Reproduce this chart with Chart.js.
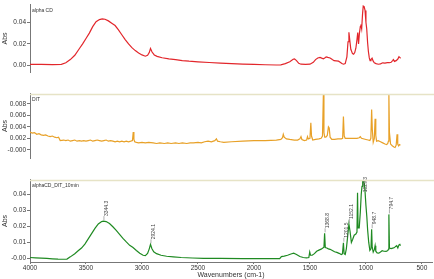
<!DOCTYPE html>
<html>
<head>
<meta charset="utf-8">
<script src="https://cdn.jsdelivr.net/npm/chart.js@4.4.1/dist/chart.umd.min.js"></script>
<style>
    html, body { margin: 0; padding: 0; background: #fff; }
    #wrap { position: relative; width: 434px; height: 279px; overflow: hidden; }
    canvas { position: absolute; left: 0; }
</style>
</head>
<body>
<div id="wrap">
    <canvas id="chart-alpha" width="434" height="89" style="top:0"></canvas>
    <canvas id="chart-dit" width="434" height="86" style="top:89px"></canvas>
    <canvas id="chart-mix" width="434" height="104" style="top:175px"></canvas>
</div>
<script>
// espectros (cm-1, Abs)
const ALPHA_WN = [4000, 3900, 3800, 3720, 3680, 3640, 3600, 3560, 3530, 3500, 3470, 3440, 3410, 3380, 3355, 3330, 3300, 3270, 3240, 3210, 3180, 3150, 3120, 3090, 3060, 3030, 3000, 2970, 2950, 2935, 2924, 2910, 2890, 2865, 2820, 2760, 2700, 2640, 2580, 2500, 2400, 2300, 2200, 2100, 2000, 1900, 1800, 1760, 1720, 1680, 1650, 1638, 1620, 1600, 1580, 1540, 1500, 1470, 1450, 1430, 1410, 1395, 1380, 1365, 1355, 1340, 1320, 1300, 1285, 1265, 1245, 1230, 1215, 1200, 1185, 1170, 1160, 1152, 1145, 1135, 1120, 1110, 1100, 1090, 1080, 1073, 1066, 1058, 1050, 1045, 1038, 1030, 1024, 1016, 1008, 1000, 993, 985, 978, 970, 963, 955, 945, 935, 925, 910, 890, 870, 850, 830, 810, 790, 775, 760, 755, 745, 730, 715, 705, 698, 690];
const ALPHA_ABS = [0.0010, 0.0010, 0.0009, 0.0011, 0.0025, 0.0055, 0.0095, 0.0155, 0.0200, 0.0250, 0.0300, 0.0360, 0.0405, 0.0425, 0.0431, 0.0428, 0.0413, 0.0392, 0.0370, 0.0330, 0.0285, 0.0240, 0.0200, 0.0165, 0.0138, 0.0115, 0.0098, 0.0086, 0.0095, 0.0120, 0.0158, 0.0125, 0.0098, 0.0085, 0.0072, 0.0062, 0.0055, 0.0046, 0.0040, 0.0034, 0.0028, 0.0022, 0.0018, 0.0013, 0.0010, 0.0007, 0.0005, 0.0006, 0.0018, 0.0035, 0.0058, 0.0062, 0.0045, 0.0020, 0.0012, 0.0010, 0.0012, 0.0030, 0.0055, 0.0070, 0.0075, 0.0068, 0.0062, 0.0072, 0.0080, 0.0075, 0.0070, 0.0055, 0.0045, 0.0043, 0.0040, 0.0030, 0.0018, 0.0012, 0.0018, 0.0080, 0.0220, 0.0308, 0.0240, 0.0150, 0.0110, 0.0105, 0.0120, 0.0160, 0.0240, 0.0305, 0.0200, 0.0300, 0.0360, 0.0380, 0.0340, 0.0480, 0.0550, 0.0545, 0.0510, 0.0400, 0.0340, 0.0210, 0.0130, 0.0070, 0.0045, 0.0055, 0.0068, 0.0040, 0.0025, 0.0018, 0.0012, 0.0015, 0.0025, 0.0022, 0.0026, 0.0026, 0.0030, 0.0048, 0.0055, 0.0038, 0.0045, 0.0060, 0.0082, 0.0075, 0.0068];

const DIT_WN = [4000, 3980, 3960, 3940, 3920, 3900, 3880, 3860, 3840, 3820, 3800, 3780, 3760, 3745, 3730, 3700, 3680, 3660, 3640, 3620, 3600, 3580, 3560, 3540, 3520, 3500, 3480, 3460, 3440, 3420, 3400, 3380, 3360, 3340, 3320, 3300, 3280, 3260, 3240, 3220, 3200, 3180, 3160, 3140, 3120, 3100, 3085, 3078, 3072, 3065, 3050, 3030, 3000, 2970, 2940, 2900, 2870, 2840, 2800, 2770, 2740, 2700, 2670, 2640, 2600, 2570, 2540, 2500, 2470, 2440, 2410, 2380, 2350, 2335, 2325, 2300, 2270, 2200, 2100, 2000, 1900, 1800, 1760, 1745, 1738, 1730, 1710, 1680, 1640, 1610, 1590, 1580, 1572, 1550, 1530, 1522, 1515, 1500, 1492, 1486, 1475, 1450, 1420, 1400, 1388, 1380, 1375, 1368, 1358, 1345, 1335, 1328, 1320, 1305, 1280, 1250, 1220, 1208, 1201, 1194, 1185, 1150, 1120, 1080, 1060, 1050, 1040, 1000, 980, 965, 956, 949, 943, 935, 925, 918, 912, 905, 890, 870, 850, 830, 815, 805, 799, 795, 790, 780, 765, 750, 740, 730, 722, 716, 708, 700, 692];
const DIT_ABS = [0.0031, 0.0029, 0.0030, 0.0027, 0.0028, 0.0026, 0.0025, 0.0026, 0.0024, 0.0023, 0.0024, 0.0022, 0.0021, 0.0022, 0.0016, 0.0017, 0.0016, 0.0017, 0.0015, 0.0016, 0.0017, 0.0015, 0.0016, 0.0015, 0.0016, 0.0015, 0.0016, 0.0017, 0.0015, 0.0016, 0.0017, 0.0016, 0.0015, 0.0016, 0.0017, 0.0015, 0.0016, 0.0015, 0.0014, 0.0015, 0.0014, 0.0015, 0.0014, 0.0015, 0.0014, 0.0015, 0.0016, 0.0031, 0.0018, 0.0014, 0.0013, 0.0012, 0.0013, 0.0012, 0.0013, 0.0012, 0.0011, 0.0012, 0.0011, 0.0012, 0.0011, 0.0012, 0.0011, 0.0012, 0.0011, 0.0012, 0.0012, 0.0013, 0.0012, 0.0014, 0.0015, 0.0014, 0.0016, 0.0019, 0.0015, 0.0014, 0.0013, 0.0014, 0.0015, 0.0016, 0.0016, 0.0017, 0.0018, 0.0021, 0.0027, 0.0022, 0.0019, 0.0018, 0.0017, 0.0017, 0.0019, 0.0023, 0.0018, 0.0016, 0.0017, 0.0023, 0.0019, 0.0020, 0.0047, 0.0024, 0.0017, 0.0018, 0.0019, 0.0020, 0.0024, 0.0097, 0.0030, 0.0022, 0.0022, 0.0025, 0.0040, 0.0038, 0.0022, 0.0018, 0.0018, 0.0019, 0.0019, 0.0020, 0.0058, 0.0024, 0.0020, 0.0020, 0.0020, 0.0020, 0.0021, 0.0023, 0.0020, 0.0018, 0.0017, 0.0016, 0.0020, 0.0070, 0.0035, 0.0013, 0.0020, 0.0054, 0.0025, 0.0015, 0.0016, 0.0014, 0.0012, 0.0010, 0.0009, 0.0011, 0.0015, 0.0097, 0.0030, 0.0010, 0.0007, 0.0005, 0.0004, 0.0008, 0.0027, 0.0010, 0.0007, 0.0009, 0.0008];

const MIX_WN = [4000, 3950, 3900, 3850, 3800, 3750, 3700, 3670, 3640, 3600, 3570, 3540, 3510, 3480, 3450, 3420, 3390, 3360, 3344, 3320, 3290, 3260, 3230, 3200, 3170, 3140, 3110, 3080, 3050, 3020, 2990, 2970, 2950, 2935, 2924, 2912, 2895, 2870, 2830, 2780, 2720, 2650, 2550, 2450, 2300, 2100, 1900, 1770, 1755, 1730, 1700, 1670, 1645, 1620, 1590, 1560, 1530, 1510, 1502, 1495, 1480, 1460, 1440, 1420, 1400, 1385, 1375, 1369, 1363, 1350, 1335, 1320, 1300, 1280, 1260, 1240, 1220, 1210, 1201, 1195, 1185, 1175, 1165, 1152, 1142, 1130, 1118, 1105, 1090, 1080, 1075, 1070, 1060, 1050, 1042, 1035, 1029, 1020, 1010, 1000, 992, 985, 975, 965, 955, 949, 944, 935, 925, 918, 912, 900, 885, 870, 855, 840, 820, 805, 798, 795, 790, 775, 760, 745, 735, 725, 715, 705, 697, 692];
const MIX_ABS = [0.0006, 0.0004, 0.0002, 0.0000, -0.0002, -0.0004, -0.0005, -0.0004, 0.0010, 0.0030, 0.0048, 0.0065, 0.0090, 0.0122, 0.0155, 0.0188, 0.0215, 0.0230, 0.0233, 0.0230, 0.0218, 0.0198, 0.0175, 0.0150, 0.0125, 0.0103, 0.0082, 0.0068, 0.0050, 0.0033, 0.0020, 0.0018, 0.0032, 0.0060, 0.0088, 0.0062, 0.0042, 0.0030, 0.0020, 0.0014, 0.0010, 0.0006, 0.0003, 0.0001, 0.0000, -0.0001, -0.0001, -0.0001, 0.0012, 0.0015, 0.0020, 0.0028, 0.0033, 0.0025, 0.0012, 0.0006, 0.0004, 0.0006, 0.0040, 0.0020, 0.0020, 0.0030, 0.0045, 0.0052, 0.0058, 0.0065, 0.0070, 0.0157, 0.0068, 0.0065, 0.0060, 0.0057, 0.0050, 0.0042, 0.0038, 0.0032, 0.0024, 0.0028, 0.0098, 0.0030, 0.0025, 0.0060, 0.0125, 0.0215, 0.0170, 0.0100, 0.0120, 0.0145, 0.0152, 0.0165, 0.0410, 0.0190, 0.0190, 0.0290, 0.0400, 0.0450, 0.0500, 0.0490, 0.0440, 0.0330, 0.0260, 0.0180, 0.0100, 0.0050, 0.0060, 0.0182, 0.0070, 0.0040, 0.0055, 0.0080, 0.0045, 0.0035, 0.0033, 0.0040, 0.0048, 0.0045, 0.0044, 0.0050, 0.0058, 0.0275, 0.0065, 0.0062, 0.0065, 0.0068, 0.0075, 0.0080, 0.0066, 0.0085, 0.0088, 0.0080];

// picos marcados en el tercer espectro
const PEAK_WN = [3344.3, 2924.1, 1368.8, 1201.5, 1152.1, 1029.3, 948.7, 794.7];
const PEAK_LABELS = ['3344.3', '2924.1', '1368.8', '1201.5', '1152.1', '1029.3', '948.7', '794.7'];

// ejes
const X_TICKS = [4000, 3500, 3000, 2500, 2000, 1500, 1000, 500];
const X_LABELS = ['4000', '3500', '3000', '2500', '2000', '1500', '1000', '500'];
const Y_ALPHA_TICKS = [0, 0.02, 0.04];
const Y_ALPHA_LABELS = ['0.00', '0.02', '0.04'];
const Y_DIT_TICKS = [0, 0.002, 0.004, 0.006, 0.008];
const Y_DIT_LABELS = ['-0.000', '0.002', '0.004', '0.006', '0.008'];
const Y_MIX_TICKS = [0, 0.01, 0.02, 0.03, 0.04];
const Y_MIX_LABELS = ['-0.00', '0.01', '0.02', '0.03', '0.04'];

const FONT = 'Liberation Sans, Arial, sans-serif';
const AXIS_COLOR = '#777';
const TEXT_COLOR = '#333';

// nombre del panel y linea separadora
const panelDeco = {
    id: 'panelDeco',
    afterDraw(chart, args, opts) {
        const { ctx, chartArea } = chart;
        ctx.save();
        if (opts.separator) {
            ctx.strokeStyle = '#e6e3c6';
            ctx.lineWidth = 1.5;
            ctx.beginPath();
            ctx.moveTo(chartArea.left, chartArea.top + 0.5);
            ctx.lineTo(chartArea.right + 2, chartArea.top + 0.5);
            ctx.stroke();
        }
        ctx.fillStyle = TEXT_COLOR;
        ctx.font = `5px ${FONT}`;
        ctx.textBaseline = 'middle';
        ctx.fillText(opts.name, chartArea.left + 2, chartArea.top + 6);
        ctx.restore();
    }
};

// etiquetas verticales de los picos
const peakLabels = {
    id: 'peakLabels',
    afterDatasetsDraw(chart) {
        const { ctx, chartArea, scales } = chart;
        ctx.save();
        ctx.font = `5px ${FONT}`;
        ctx.fillStyle = '#444';
        ctx.strokeStyle = '#999';
        ctx.lineWidth = 0.8;
        PEAK_WN.forEach((wn, i) => {
            let best = -Infinity;
            MIX_WN.forEach((w, j) => {
                if (Math.abs(w - wn) <= 6 && MIX_ABS[j] > best) best = MIX_ABS[j];
            });
            const px = scales.x.getPixelForValue(wn);
            const py = scales.y.getPixelForValue(best);
            const txt = PEAK_LABELS[i];
            const w = ctx.measureText(txt).width;
            let start = py - 5;
            if (start - w < chartArea.top - 3) start = chartArea.top - 3 + w;
            ctx.beginPath();
            ctx.moveTo(px + 0.5, Math.max(py - 1, start));
            ctx.lineTo(px + 0.5, start);
            ctx.stroke();
            ctx.save();
            ctx.translate(px + 3, start);
            ctx.rotate(-Math.PI / 2);
            ctx.textAlign = 'left';
            ctx.textBaseline = 'middle';
            ctx.fillText(txt, 0, 0);
            ctx.restore();
        });
        ctx.restore();
    }
};

function toPoints(wn, abs) {
    return wn.map((w, i) => ({ x: w, y: abs[i] }));
}

function buildChart(id, cfg) {
    const showX = !!cfg.showX;
    return new Chart(document.getElementById(id), {
        type: 'line',
        data: {
            datasets: [{
                data: toPoints(cfg.wn, cfg.abs),
                borderColor: cfg.color,
                borderWidth: 1.2,
                pointRadius: 0,
                tension: 0,
                fill: false,
            }]
        },
        options: {
            responsive: false,
            animation: false,
            events: [],
            layout: { padding: { top: cfg.padTop || 0, right: 2, left: 0, bottom: 0 } },
            plugins: {
                legend: { display: false },
                tooltip: { enabled: false },
                panelDeco: { name: cfg.name, separator: cfg.separator },
            },
            scales: {
                x: {
                    type: 'linear',
                    reverse: true,
                    min: 410,
                    max: 4000,
                    display: showX,
                    afterBuildTicks: (s) => { s.ticks = X_TICKS.map(v => ({ value: v })); },
                    afterFit: (s) => { s.height = 17; },
                    ticks: {
                        color: TEXT_COLOR,
                        font: { family: FONT, size: 6.5, lineHeight: 1 },
                        padding: 1,
                        maxRotation: 0,
                        autoSkip: false,
                        callback: (v, i) => X_LABELS[i],
                    },
                    grid: { drawOnChartArea: false, tickLength: 2, tickColor: AXIS_COLOR },
                    border: { color: AXIS_COLOR, dash: [1, 1.5] },
                    title: {
                        display: true,
                        text: 'Wavenumbers (cm-1)',
                        color: TEXT_COLOR,
                        font: { family: FONT, size: 7, lineHeight: 1 },
                        padding: { top: 0, bottom: 0 },
                    },
                },
                y: {
                    min: cfg.min,
                    max: cfg.max,
                    afterBuildTicks: (s) => { s.ticks = cfg.ticks.map(v => ({ value: v })); },
                    afterFit: (s) => { s.width = 30; },
                    ticks: {
                        color: TEXT_COLOR,
                        font: { family: FONT, size: 6.5 },
                        padding: 1,
                        callback: (v, i) => cfg.labels[i],
                    },
                    grid: { drawOnChartArea: false, tickLength: 3, tickColor: AXIS_COLOR },
                    border: { color: AXIS_COLOR, dash: [1, 1.5] },
                    title: {
                        display: true,
                        text: 'Abs',
                        color: TEXT_COLOR,
                        font: { family: FONT, size: 7, lineHeight: 1 },
                        padding: { top: 1.5, bottom: 0 },
                    },
                },
            },
        },
        plugins: cfg.extra ? [panelDeco, cfg.extra] : [panelDeco],
    });
}

buildChart('chart-alpha', {
    wn: ALPHA_WN, abs: ALPHA_ABS, color: '#e2262b', name: 'alpha CD',
    min: -0.006, max: 0.0561, ticks: Y_ALPHA_TICKS, labels: Y_ALPHA_LABELS,
    padTop: 3, separator: false,
});

buildChart('chart-dit', {
    wn: DIT_WN, abs: DIT_ABS, color: '#e8a128', name: 'DIT',
    min: -0.00143, max: 0.00974, ticks: Y_DIT_TICKS, labels: Y_DIT_LABELS,
    separator: true,
});

buildChart('chart-mix', {
    wn: MIX_WN, abs: MIX_ABS, color: '#1f8a22', name: 'alphaCD_DIT_10min',
    min: -0.0022, max: 0.049, ticks: Y_MIX_TICKS, labels: Y_MIX_LABELS,
    separator: true, showX: true, extra: peakLabels,
});
</script>
</body>
</html>
